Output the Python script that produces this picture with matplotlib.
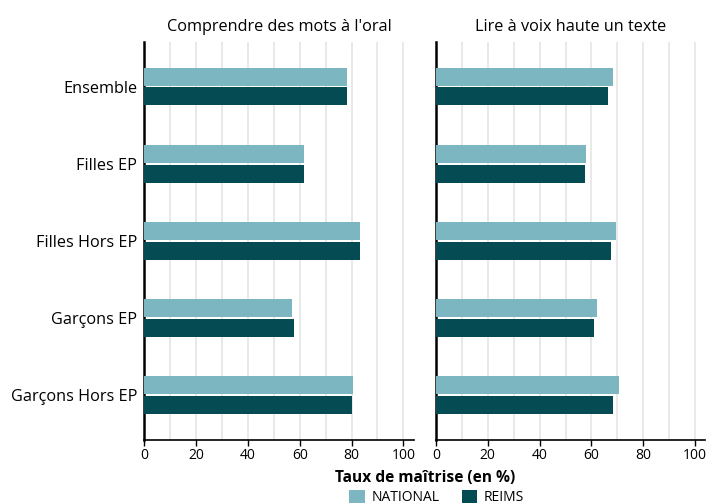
import matplotlib
matplotlib.use("Agg")
import matplotlib.pyplot as plt
from matplotlib.patches import Patch

plt.rcParams['font.family'] = ['Open Sans', 'DejaVu Sans']

categories = ["Ensemble", "Filles EP", "Filles Hors EP", "Garçons EP", "Garçons Hors EP"]
panel_titles = ["Comprendre des mots à l'oral", "Lire à voix haute un texte"]
series_names = ["NATIONAL", "REIMS"]
oral_national = [78.3, 61.7, 83.3, 57.0, 80.6]
oral_reims = [78.3, 61.7, 83.3, 57.8, 80.2]
lire_national = [68.3, 57.9, 69.5, 62.2, 70.7]
lire_reims = [66.4, 57.5, 67.6, 61.0, 68.3]
xticks = [0, 20, 40, 60, 80, 100]

col_nat = "#7BB6C1"
col_reims = "#054B53"

fig = plt.figure(figsize=(7.08, 5.04), dpi=100)
ax1 = fig.add_axes([0.2038, 0.127, 0.3805, 0.79])
ax2 = fig.add_axes([0.6158, 0.127, 0.3805, 0.79])

h = 0.235
gap = 0.01
y = list(range(len(categories)))
for ax, nat, rei, title in [(ax1, oral_national, oral_reims, panel_titles[0]),
                            (ax2, lire_national, lire_reims, panel_titles[1])]:
    ax.barh([v - h / 2 - gap for v in y], nat, height=h, color=col_nat, zorder=3)
    ax.barh([v + h / 2 + gap for v in y], rei, height=h, color=col_reims, zorder=3)
    ax.set_xlim(0, 104)
    ax.set_ylim(len(categories) - 0.42, -0.58)
    ax.set_xticks(xticks)
    ax.set_xticks(list(range(10, 101, 20)), minor=True)
    ax.grid(axis='x', which='both', color='#E5E5E5', linewidth=1.2, zorder=0)
    for v in y:
        ax.axhline(v, color='white', linewidth=1.5, zorder=1)
    ax.tick_params(axis='x', which='major', length=4, width=1, color='black',
                   labelsize=10, pad=2)
    ax.tick_params(axis='x', which='minor', length=0)
    for s in ['top', 'right']:
        ax.spines[s].set_visible(False)
    ax.spines['left'].set_linewidth(1.8)
    ax.spines['bottom'].set_linewidth(1.2)
    ax.set_title(title, fontsize=11.7, pad=8)
    ax.tick_params(axis='y', length=0, labelsize=11.7, pad=5)

ax1.set_yticks(y)
ax1.set_yticklabels(categories)
ax2.set_yticks(y)
ax2.set_yticklabels([])

fig.text(0.6, 0.051, "Taux de maîtrise (en %)", ha='center', va='center',
         fontsize=11.2, fontweight='bold')
handles = [Patch(facecolor=col_nat, label=series_names[0]),
           Patch(facecolor=col_reims, label=series_names[1])]
fig.legend(handles=handles, loc='center', bbox_to_anchor=(0.617, 0.013), ncol=2,
           frameon=False, fontsize=10, handlelength=1.1, handleheight=1.1,
           handletextpad=0.5, columnspacing=1.6, borderpad=0)
fig.savefig("out.png", dpi=100)
